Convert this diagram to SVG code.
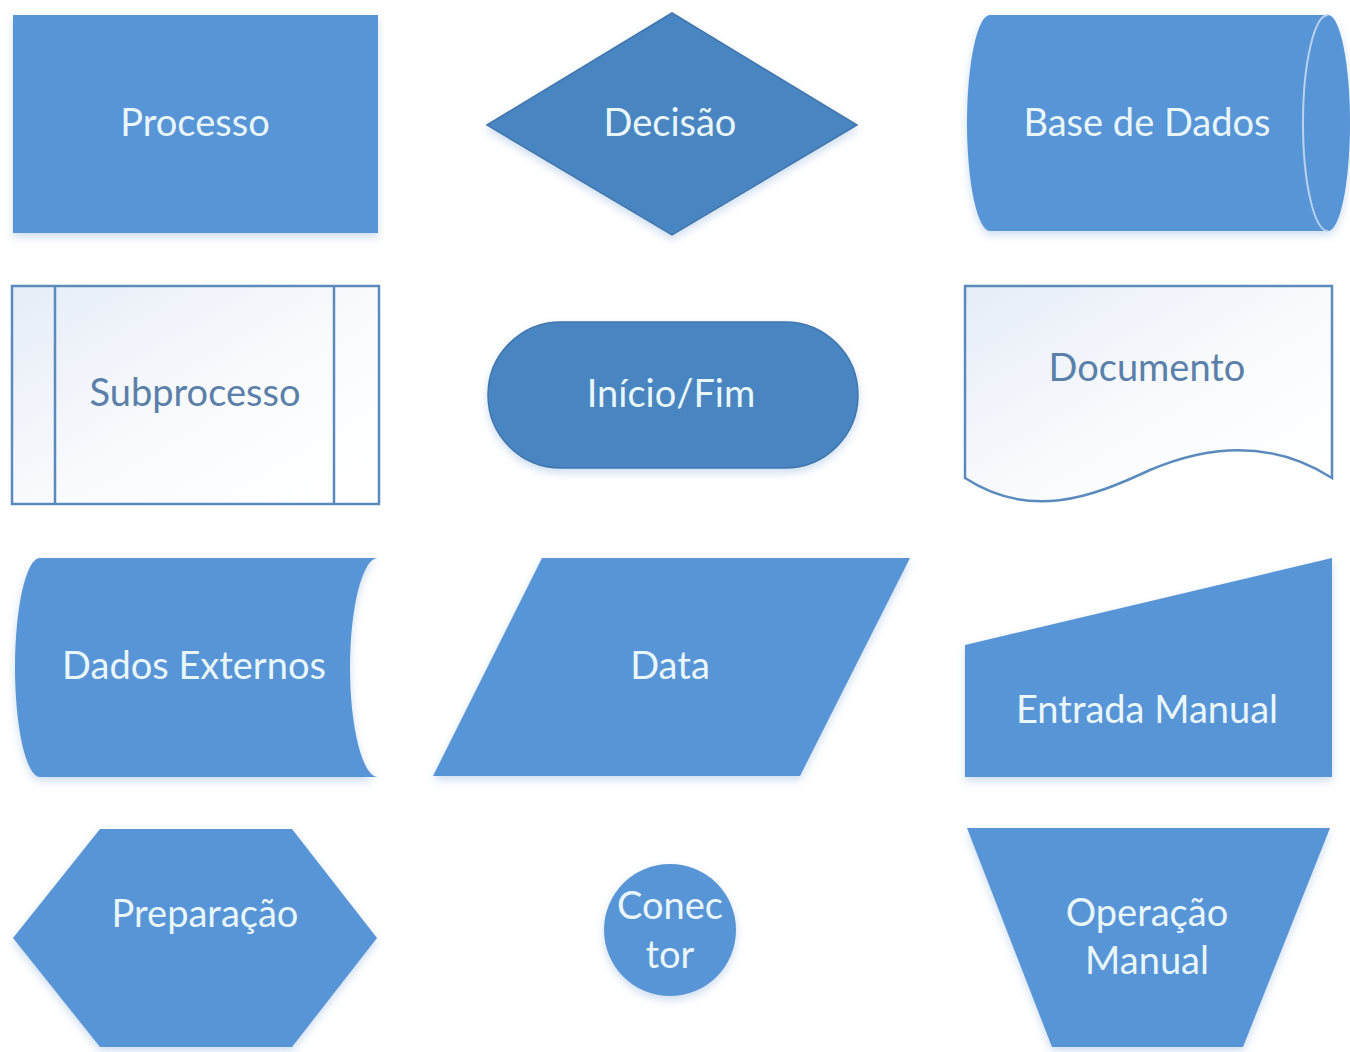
<svg xmlns="http://www.w3.org/2000/svg" width="1350" height="1052" viewBox="0 0 1350 1052">
<defs>
<filter id="sh" x="-10%" y="-10%" width="120%" height="125%">
<feDropShadow dx="0" dy="4" stdDeviation="4" flood-color="#8fb3de" flood-opacity="0.45"/>
</filter>
<linearGradient id="pale" x1="0" y1="0" x2="1" y2="1">
<stop offset="0" stop-color="#e6edf7"/>
<stop offset="0.6" stop-color="#fbfcfe"/>
<stop offset="1" stop-color="#ffffff"/>
</linearGradient>
</defs>
<style>
.f{fill:#5995d6;filter:url(#sh)}
.d{fill:#4a86c1;stroke:#3f76ad;stroke-width:1.5;filter:url(#sh)}
.o{fill:url(#pale);stroke:#5b8bbd;stroke-width:2.5}
.ln{fill:none;stroke:#5b8bbd;stroke-width:2.5}
.t{font-family:Lato,"Open Sans","Liberation Sans",sans-serif;font-size:38px;fill:#e9f7fb;text-anchor:middle}
.tb{font-family:Lato,"Open Sans","Liberation Sans",sans-serif;font-size:38px;fill:#5a80a9;text-anchor:middle}
</style>
<rect width="1350" height="1052" fill="#ffffff"/>
<g id="connectors"/>
<g id="processo">
<rect class="f" x="13" y="15" width="365" height="218"/>
<text class="t" x="195" y="136">Processo</text>
</g>
<g id="decisao">
<polygon class="d" points="487,125 672,13 857,125 672,235"/>
<text class="t" x="670" y="136">Decisão</text>
</g>
<g id="base-de-dados">
<path class="f" d="M990,15 L1328,15 A22,108 0 0 1 1328,231 L990,231 A23,108 0 0 1 990,15 Z"/>
<path d="M1328,15 A25,108 0 0 0 1328,231" fill="none" stroke="#b9d3ee" stroke-width="2"/>
<text class="t" x="1147" y="136">Base de Dados</text>
</g>
<g id="subprocesso">
<rect class="o" x="12" y="286" width="367" height="218"/>
<line class="ln" x1="55" y1="286" x2="55" y2="504"/>
<line class="ln" x1="334" y1="286" x2="334" y2="504"/>
<text class="tb" x="195" y="406">Subprocesso</text>
</g>
<g id="inicio-fim">
<rect class="d" x="488" y="322" width="370" height="146" rx="73" ry="73"/>
<text class="t" x="671" y="407">Início/Fim</text>
</g>
<g id="documento">
<path class="o" d="M965,286 L1332,286 L1332,478 C1280,445 1220,440 1150,470 C1090,498 1030,520 965,478 Z"/>
<text class="tb" x="1147" y="381">Documento</text>
</g>
<g id="dados-externos">
<path class="f" d="M40,558 L378,558 A28,109.5 0 0 0 378,777 L40,777 A25,109.5 0 0 1 40,558 Z"/>
<text class="t" x="194" y="679">Dados Externos</text>
</g>
<g id="data">
<polygon class="f" points="542,558 910,558 800,776 433,776"/>
<text class="t" x="670" y="679">Data</text>
</g>
<g id="entrada-manual">
<polygon class="f" points="965,645 1332,558 1332,777 965,777"/>
<text class="t" x="1147" y="723">Entrada Manual</text>
</g>
<g id="preparacao">
<polygon class="f" points="13,938 100,829 292,829 377,938 292,1047 100,1047"/>
<text class="t" x="205" y="927">Preparação</text>
</g>
<g id="conector">
<circle class="f" cx="670" cy="930" r="66"/>
<text class="t" x="670" y="919">Conec</text>
<text class="t" x="670" y="968">tor</text>
</g>
<g id="operacao-manual">
<polygon class="f" points="967,828 1330,828 1243,1047 1052,1047"/>
<text class="t" x="1147" y="926">Operação</text>
<text class="t" x="1147" y="974">Manual</text>
</g>
</svg>
